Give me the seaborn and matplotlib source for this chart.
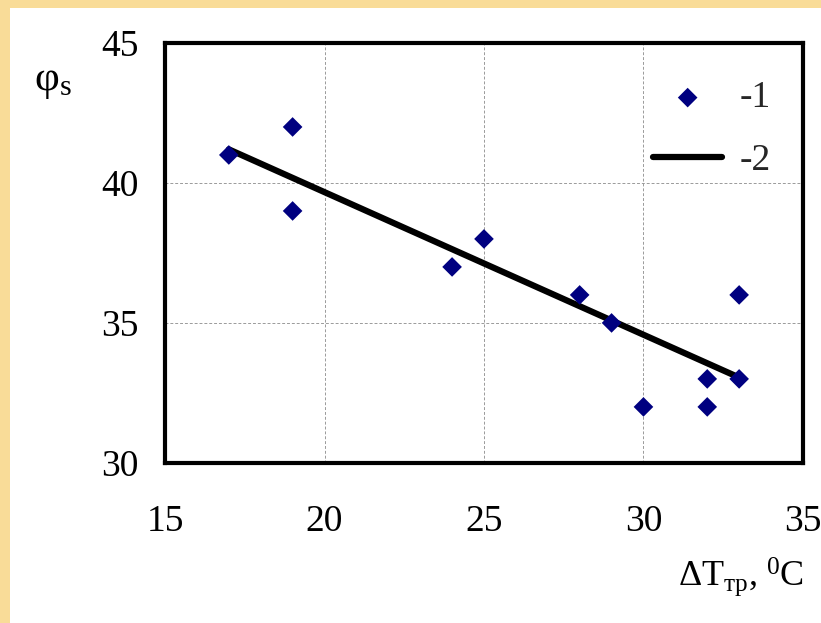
import numpy as np
import pandas as pd
import seaborn as sns
import matplotlib.pyplot as plt
from matplotlib.patches import Rectangle

# measured points (series 1)
dt_points = [17, 19, 19, 24, 25, 28, 29, 30, 32, 32, 33, 33]
phi_points = [41, 42, 39, 37, 38, 36, 35, 32, 33, 32, 36, 33]
# fitted line (series 2)
dt_fit = [17, 33]
phi_fit = [41.2, 33.05]

x_ticks = [15, 20, 25, 30, 35]
y_ticks = [30, 35, 40, 45]

df_pts = pd.DataFrame({"dT": dt_points, "phi": phi_points})
df_fit = pd.DataFrame({"dT": dt_fit, "phi": phi_fit})

sns.set_style("white")
plt.rcParams["font.family"] = ["Liberation Serif", "DejaVu Serif"]
plt.rcParams["mathtext.fontset"] = "custom"
plt.rcParams["mathtext.rm"] = "Liberation Serif"
plt.rcParams["mathtext.it"] = "Liberation Serif"

fig = plt.figure(figsize=(8.21, 6.23), dpi=100)
fig.patch.set_facecolor("#f9dc98")
fig.patches.append(Rectangle((10 / 821, 0), 1, 1 - 8 / 623, transform=fig.transFigure,
                             facecolor="white", edgecolor="none", zorder=-10))

ax = fig.add_axes([0.201, 0.257, 0.777, 0.674])
ax.set_zorder(1)
ax.set_facecolor("white")

sns.lineplot(df_fit, x="dT", y="phi", ax=ax, color="black", linewidth=4.5, label="-2", zorder=3)
sns.scatterplot(df_pts, x="dT", y="phi", ax=ax, marker="D", s=100, color="#000080",
                edgecolor="none", label="-1", zorder=4)

ax.set_xlim(15, 35)
ax.set_ylim(30, 45)
ax.set_xticks(x_ticks)
ax.set_yticks(y_ticks)
ax.grid(True, linestyle=(0, (3, 2)), color="#9a9a9a", linewidth=0.7)
for s in ax.spines.values():
    s.set_color("black")
    s.set_linewidth(3)
ax.tick_params(direction="in", length=6, width=2, labelsize=27, colors="black")
ax.tick_params(axis="x", pad=30)
ax.tick_params(axis="y", pad=19)
ax.set_xlabel("")
ax.set_ylabel("")

handles, labels = ax.get_legend_handles_labels()
order = [labels.index("-1"), labels.index("-2")]
ax.legend([handles[i] for i in order], [labels[i] for i in order], loc="upper right",
          frameon=False, fontsize=27, handlelength=1.85, handletextpad=0.45,
          labelspacing=0.75, bbox_to_anchor=(1.002, 0.99))

fig.text(0.042, 0.855, "φ$_\\mathrm{s}$", fontsize=31, color="black")
fig.text(0.826, 0.06, "ΔT$_\\mathrm{тр}$, $^\\mathrm{0}$C", fontsize=26, color="black")

fig.savefig("out.png", dpi=100)
